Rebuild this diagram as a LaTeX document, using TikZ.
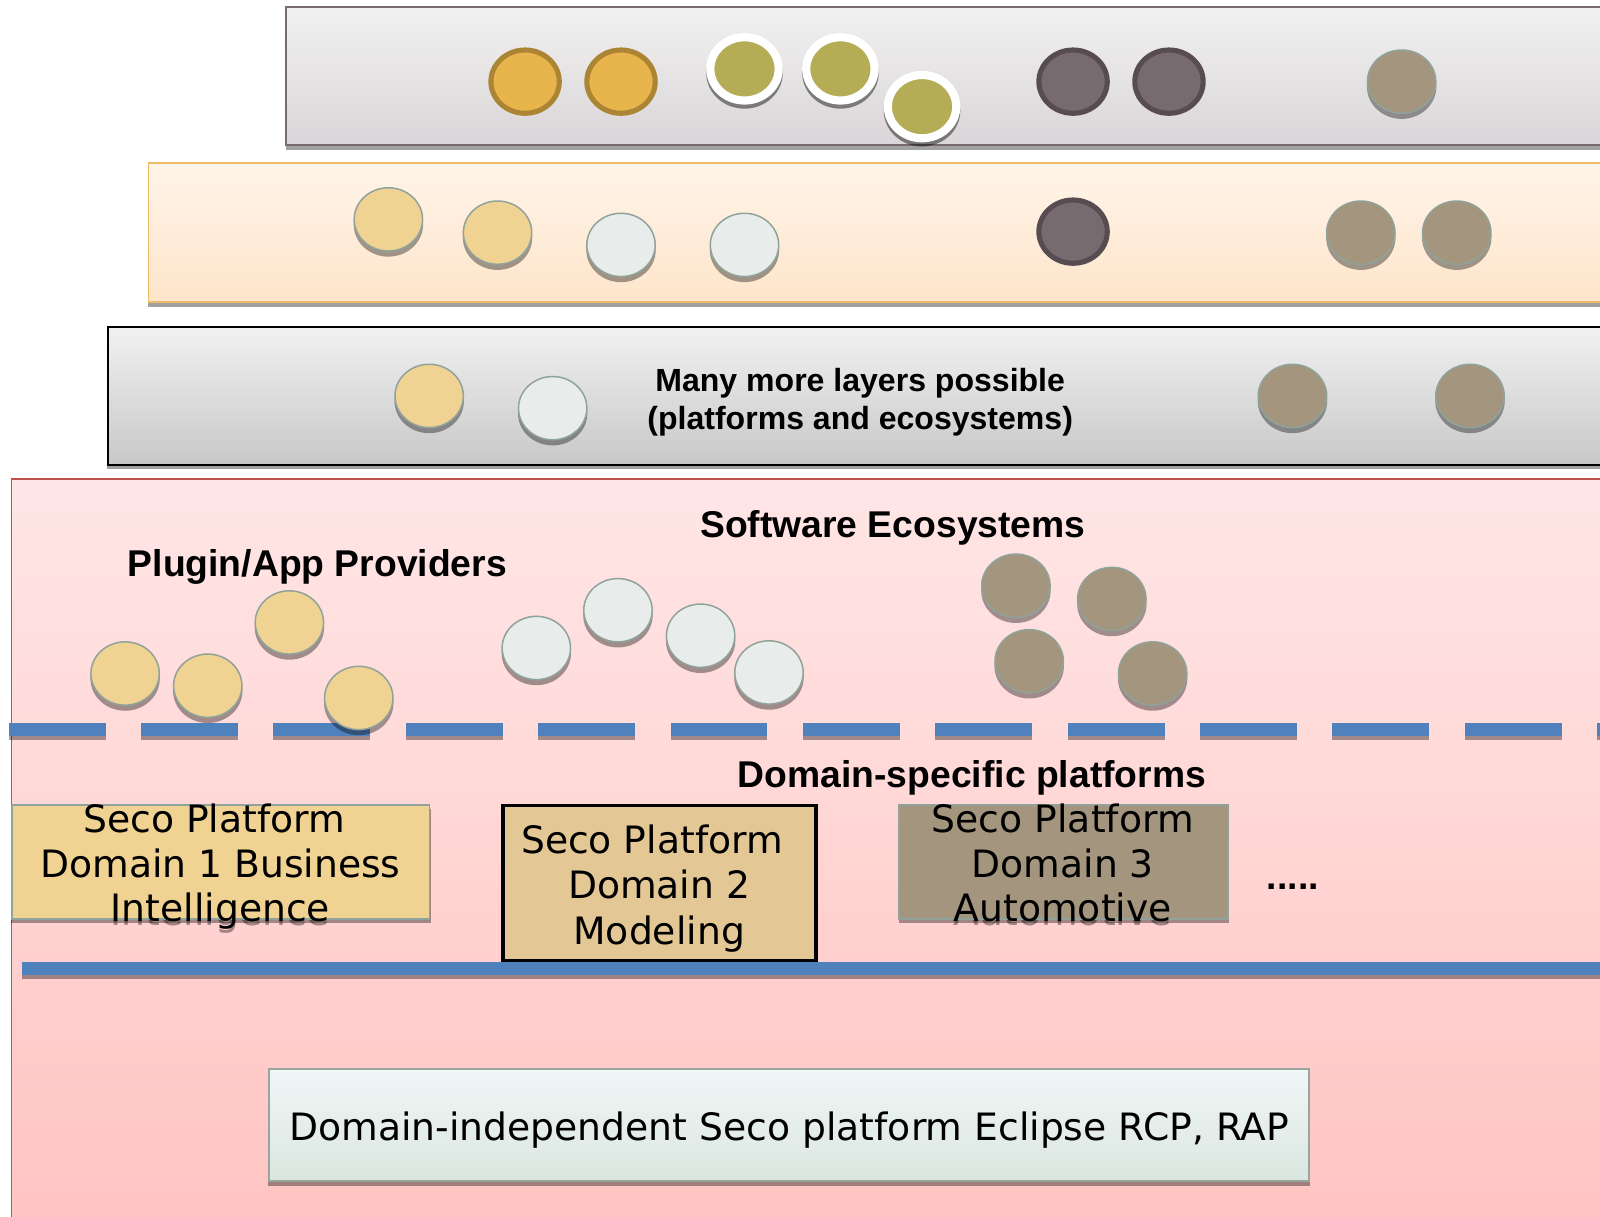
\documentclass[tikz,border=0pt]{standalone}
\usepackage{fontspec}
\setmainfont{Liberation Sans}
\newfontfamily\vfont{DejaVu Sans}
\definecolor{cSand}{HTML}{F0D292}
\definecolor{cLight}{HTML}{E8ECEA}
\definecolor{cTaupe}{HTML}{A4957E}
\definecolor{cEdge}{HTML}{8FA39A}
\definecolor{cPurple}{HTML}{786B6F}
\definecolor{cPurpleE}{HTML}{574C50}
\definecolor{cGold}{HTML}{E8B44C}
\definecolor{cGoldE}{HTML}{AB8534}
\definecolor{cOlive}{HTML}{B5AD55}
\definecolor{cBlue}{HTML}{4F81BD}
\definecolor{topA}{HTML}{F1F1F1}
\definecolor{botA}{HTML}{DAD5D8}
\definecolor{topB}{HTML}{FFF4E9}
\definecolor{botB}{HTML}{FEE5CB}
\definecolor{botC}{HTML}{C8C8C8}
\definecolor{cOrange}{HTML}{EDBB66}
\definecolor{topD}{HTML}{FFE6E6}
\definecolor{botD}{HTML}{FFC4C2}
\definecolor{cRed}{HTML}{C0504D}
\definecolor{cDtwo}{HTML}{E3C896}
\definecolor{topE}{HTML}{F1F6F6}
\definecolor{botE}{HTML}{DAE6E0}
\definecolor{edgeE}{HTML}{98A59D}
\newcommand{\shad}[4]{\fill[black,opacity=.37] (#1,#2) rectangle (#3,#4);}
% plain disc with grey edge and soft shadow
\newcommand{\disc}[3]{%
  \fill[black,opacity=.37] (#1+.6,#2+5) ellipse [x radius=34,y radius=31.5];
  \draw[fill=#3,draw=cEdge,line width=1.1pt] (#1+.6,#2) ellipse [x radius=33.5,y radius=31];}
% heavy-rim disc
\newcommand{\rimdisc}[4]{\draw[fill=#3,draw=#4,line width=3.75pt] (#1+.6,#2) ellipse [x radius=33.5,y radius=31];}
% white-ring disc
\newcommand{\olive}[2]{%
  \fill[black,opacity=.45] (#1+.6,#2+4.5) ellipse [x radius=37.5,y radius=35];
  \draw[fill=cOlive,draw=white,line width=6pt] (#1+.6,#2+.5) ellipse [x radius=33.5,y radius=31];}
\tikzset{
  bold label/.style={font=\fontsize{27.4}{31}\selectfont\bfseries,text=black,inner sep=0,align=center},
  many label/.style={font=\fontsize{23.55}{27.8}\selectfont\bfseries,text=black,inner sep=0,align=center},
  body label/.style={font=\vfont\fontsize{27.7}{33}\selectfont,text=black,inner sep=0,align=center,anchor=base,yshift=-0.75pt},
  ghost label/.style={body label,text=black,opacity=.37},
}
\begin{document}
\begin{tikzpicture}[x=0.75pt,y=-0.75pt]
\useasboundingbox (0,0) rectangle (1568,1191.7);
\clip (0,0) rectangle (1568,1191.7);
\fill[white] (0,0) rectangle (1568,1191.7);
% layers
\shad{280}{11}{1600}{147}
\draw[top color=topA,bottom color=botA,draw=cPurple,line width=1.3pt] (280,7) rectangle (1600,142);
\shad{145}{164}{1600}{301}
\draw[top color=topB,bottom color=botB,draw=cOrange,line width=1.4pt] (145.5,160) rectangle (1600,296);
\shad{105}{324}{1600}{460}
\draw[top color=topA,bottom color=botC,draw=black,line width=1.3pt] (105.5,320.5) rectangle (1600,455.5);
\draw[top color=topD,bottom color=botD,draw=cRed,line width=.9pt] (11.5,469.5) rectangle (1600,1200);
% layer 1 discs
\rimdisc{514}{80}{cGold}{cGoldE}
\rimdisc{608}{80}{cGold}{cGoldE}
\olive{729}{67}
\olive{823}{67}
\olive{903}{104}
\rimdisc{1051}{80}{cPurple}{cPurpleE}
\rimdisc{1145}{80}{cPurple}{cPurpleE}
\disc{1373}{80}{cTaupe}
% layer 2 discs
\disc{380}{215}{cSand}
\disc{487}{228}{cSand}
\disc{608}{240}{cLight}
\disc{729}{240}{cLight}
\rimdisc{1051}{227}{cPurple}{cPurpleE}
\disc{1333}{228}{cTaupe}
\disc{1427}{228}{cTaupe}
% layer 3 discs
\disc{420}{388}{cSand}
\disc{541}{400}{cLight}
\disc{1266}{388}{cTaupe}
\disc{1440}{388}{cTaupe}
\node[many label] (many) at (843,394) {Many more layers possible\\(platforms and ecosystems)};
% ecosystems labels
\node[bold label] (soft) at (875,517.5) {Software Ecosystems};
\node[bold label] (plug) at (311,555.5) {Plugin/App Providers};
% dashed bar
\foreach \xa in {8.6,138.3,268,397.7,527.4,657.1,786.8,916.5,1046.2,1175.9,1305.6,1435.3,1565}{
  \fill[black,opacity=.37] (\xa,713) rectangle (\xa+95,725);
  \fill[cBlue] (\xa,709) rectangle (\xa+95,721);
}
% solid bar
\shad{22}{947}{1600}{959}
\fill[cBlue] (22,943) rectangle (1600,955);
% ecosystem discs
\disc{122}{660}{cSand}
\disc{203}{672}{cSand}
\disc{283}{610}{cSand}
\disc{351}{684}{cSand}
\disc{525}{635}{cLight}
\disc{605}{598}{cLight}
\disc{686}{623}{cLight}
\disc{753}{659}{cLight}
\disc{995}{574}{cTaupe}
\disc{1089}{587}{cTaupe}
\disc{1008}{648}{cTaupe}
\disc{1129}{660}{cTaupe}
\node[bold label] (dom) at (952.5,762) {Domain-specific platforms};
% domain 1
\shad{11}{793}{422}{904.5}
\node[ghost label] at (216,906) {Intelligence};
\draw[fill=cSand,draw=cEdge,line width=1.3pt] (11.5,789) rectangle (421,900.5);
\node[body label] (d1a) at (210,815) {Seco Platform};
\node[body label] (d1b) at (216,859) {Domain 1 Business};
\node[body label] (d1c) at (216,902) {Intelligence};
% domain 2
\draw[fill=cDtwo,draw=black,line width=2.5pt] (493,789.5) rectangle (799.5,941.5);
\node[body label] (d2a) at (639,835) {Seco Platform};
\node[body label] (d2b) at (646,879.5) {Domain 2};
\node[body label] (d2c) at (646,924.5) {Modeling};
% domain 3
\shad{881}{793}{1204}{904.5}
\node[ghost label] at (1041.5,906) {Automotive};
\draw[fill=cTaupe,draw=cEdge,line width=1.3pt] (881,789) rectangle (1203.5,900.5);
\node[body label] (d3a) at (1041.5,815) {Seco Platform};
\node[body label] (d3b) at (1041.5,859) {Domain 3};
\node[body label] (d3c) at (1041.5,902) {Automotive};
\node[bold label] (dots) at (1267,869) {.....};
% base platform
\shad{263}{1052}{1284}{1162}
\draw[top color=topE,bottom color=botE,draw=edgeE,line width=1.5pt] (263.5,1048) rectangle (1283,1157.5);
\node[body label] (base) at (773.5,1117) {Domain-independent Seco platform Eclipse RCP, RAP};
\end{tikzpicture}
\end{document}
